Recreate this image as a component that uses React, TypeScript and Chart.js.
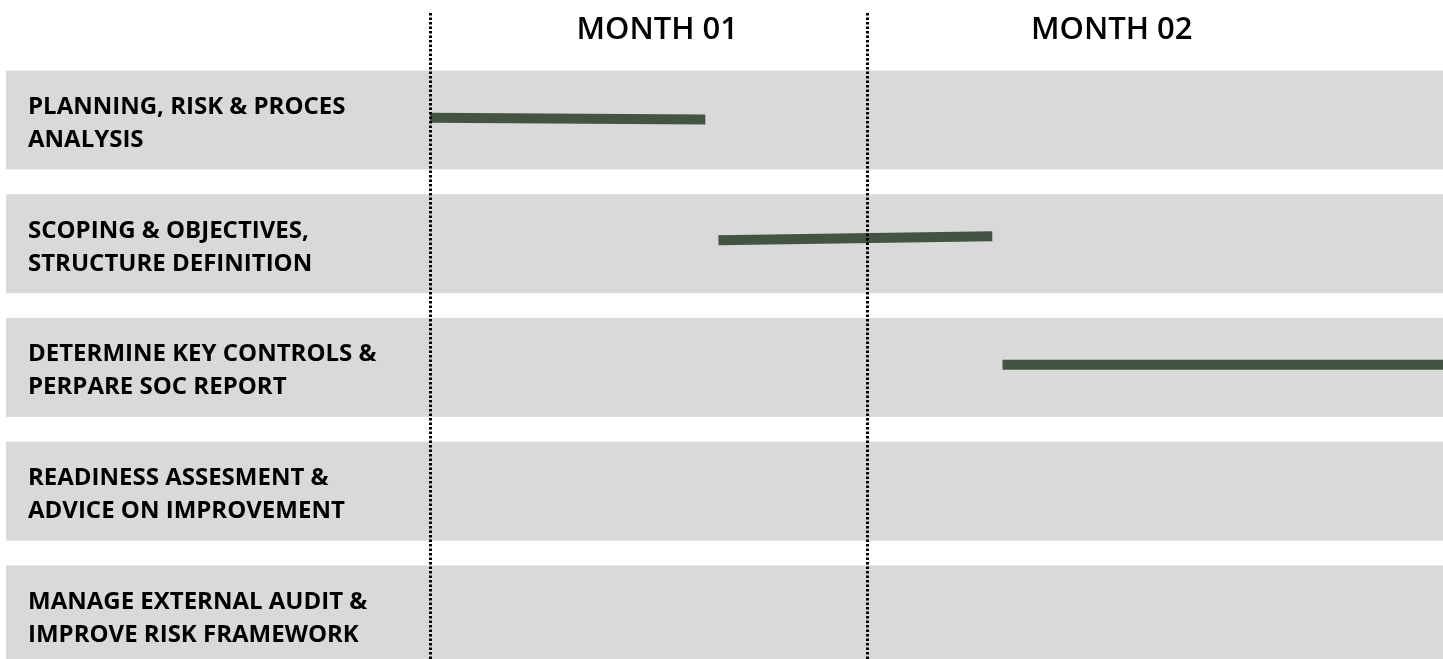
import React, { useEffect, useRef } from "react";
import { Chart, registerables } from "chart.js";

Chart.register(...registerables);

// Row (task) labels, two lines each
const taskLabels: string[][] = [
  ["PLANNING, RISK & PROCES", "ANALYSIS"],
  ["SCOPING & OBJECTIVES,", "STRUCTURE DEFINITION"],
  ["DETERMINE KEY CONTROLS &", "PERPARE SOC REPORT"],
  ["READINESS ASSESMENT &", "ADVICE ON IMPROVEMENT"],
  ["MANAGE EXTERNAL AUDIT &", "IMPROVE RISK FRAMEWORK"],
];

// Scheduled segments (x in days, y in row units)
const segStartDay = [0, 19.8, 39.3];
const segEndDay = [18.9, 38.6, 69.6];
const segStartRow = [-0.019, 0.973, 1.979];
const segEndRow = [-0.004, 0.94, 1.979];

// Month header
const monthLabels = ["MONTH 01", "MONTH 02"];
const monthLabelDay = [15.6, 46.8];
const monthBoundaryDay = [0, 30];

const X_MAX = 69.54;
const Y_MIN = -0.388;
const Y_MAX = 4.357;

const BAND_COLOR = "#d9d9d9";
const BAR_COLOR = "#435442";

export default function App() {
  const ref = useRef<HTMLCanvasElement | null>(null);

  useEffect(() => {
    if (!ref.current) return;

    const ganttPlugin = {
      id: "ganttDecor",
      beforeDatasetsDraw(chart: any) {
        const { ctx } = chart;
        const y = chart.scales.y;
        ctx.save();
        ctx.fillStyle = BAND_COLOR;
        taskLabels.forEach((_, i) => {
          const top = y.getPixelForValue(i - 0.4);
          const bot = y.getPixelForValue(i + 0.4);
          ctx.fillRect(6, top, chart.width - 6, bot - top);
        });
        ctx.fillStyle = "#000";
        ctx.font = "700 24px 'Open Sans'";
        ctx.textAlign = "left";
        ctx.textBaseline = "alphabetic";
        taskLabels.forEach((lines, i) => {
          const c = y.getPixelForValue(i);
          ctx.fillText(lines[0], 28, c - 6);
          ctx.fillText(lines[1], 28, c + 27);
        });
        ctx.restore();
      },
      afterDatasetsDraw(chart: any) {
        const { ctx } = chart;
        const x = chart.scales.x;
        ctx.save();
        ctx.strokeStyle = "#000";
        ctx.lineWidth = 3;
        ctx.setLineDash([2.5, 2]);
        monthBoundaryDay.forEach((d) => {
          const px = Math.round(x.getPixelForValue(d)) + 0.5;
          ctx.beginPath();
          ctx.moveTo(px, 13);
          ctx.lineTo(px, chart.height);
          ctx.stroke();
        });
        ctx.setLineDash([]);
        ctx.fillStyle = "#000";
        ctx.font = "600 31px 'Open Sans'";
        ctx.textAlign = "center";
        ctx.textBaseline = "alphabetic";
        monthLabels.forEach((m, i) => {
          ctx.fillText(m, x.getPixelForValue(monthLabelDay[i]), 38.5);
        });
        ctx.restore();
      },
    };

    const datasets = segStartDay.map((s, i) => ({
      label: "Task " + (i + 1),
      data: [
        { x: s, y: segStartRow[i] },
        { x: segEndDay[i], y: segEndRow[i] },
      ],
      borderColor: BAR_COLOR,
      backgroundColor: BAR_COLOR,
      borderWidth: 10,
      borderCapStyle: "butt" as const,
      pointRadius: 0,
      tension: 0,
      fill: false,
    }));

    const chart = new Chart(ref.current, {
      type: "line",
      data: { datasets },
      options: {
        animation: false,
        responsive: false,
        devicePixelRatio: 1,
        layout: { padding: { left: 430, top: 72, right: 0, bottom: 0 } },
        plugins: { legend: { display: false }, tooltip: { enabled: false } },
        scales: {
          x: { type: "linear", min: 0, max: X_MAX, display: false },
          y: { type: "linear", min: Y_MIN, max: Y_MAX, reverse: true, display: false },
        },
      },
      plugins: [ganttPlugin],
    });

    return () => chart.destroy();
  }, []);

  return (
    <div style={{ position: "fixed", left: 0, top: 0, width: 1443, height: 659, background: "#fff" }}>
      <canvas ref={ref} width={1443} height={659} />
    </div>
  );
}
